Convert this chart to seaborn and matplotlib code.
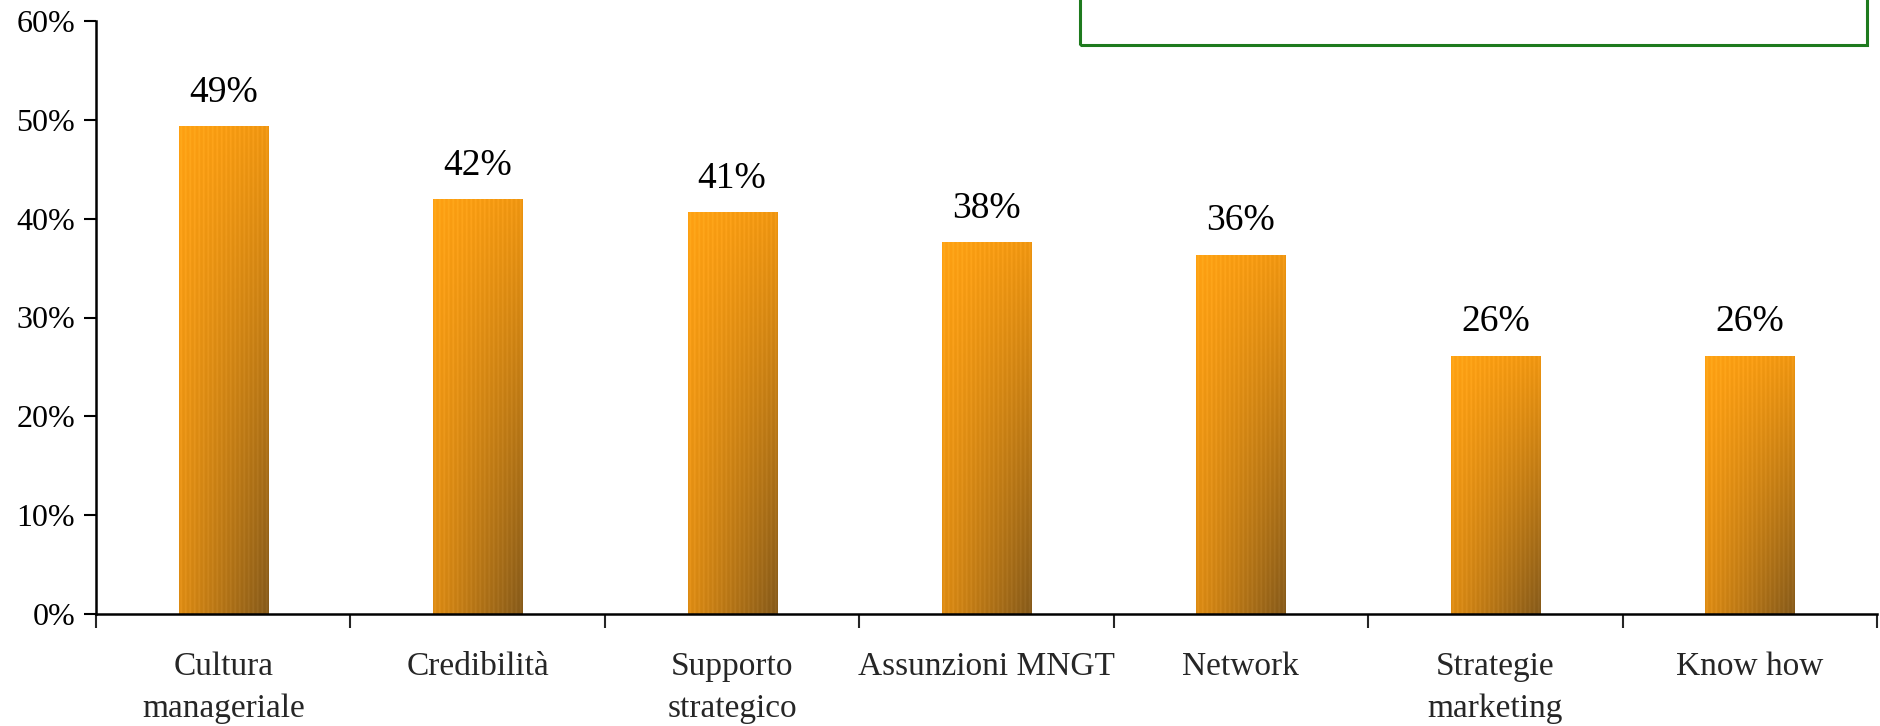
import numpy as np
import pandas as pd
import matplotlib
matplotlib.use("Agg")
import matplotlib.pyplot as plt
import seaborn as sns
from matplotlib.patches import Rectangle

categories = ["Cultura\nmanageriale", "Credibilità", "Supporto\nstrategico",
              "Assunzioni MNGT", "Network", "Strategie\nmarketing", "Know how"]
values = [49.3, 41.9, 40.6, 37.6, 36.3, 26.1, 26.1]
ytick_values = [0, 10, 20, 30, 40, 50, 60]

sns.set_theme(style="white")
plt.rcParams["font.family"] = ["Liberation Serif", "DejaVu Serif"]

df = pd.DataFrame({"cat": categories, "val": values})

fig = plt.figure(figsize=(18.8, 7.26), dpi=100)
ax = fig.add_axes([96/1880, 1-614/726, (1877-96)/1880, (614-21)/726])

sns.barplot(data=df, x="cat", y="val", ax=ax, width=0.35, color="#F59A10",
            edgecolor="none", linewidth=0)

ax.set_xlim(-0.5, len(categories) - 0.5)
ax.set_ylim(0, 60)

# gradient fill for each bar
c_tl = np.array([1.00, 0.63, 0.07])
c_tr = np.array([0.93, 0.58, 0.06])
c_bl = np.array([0.86, 0.54, 0.07])
c_br = np.array([0.52, 0.35, 0.10])
ny, nx = 200, 60
yy, xx = np.mgrid[0:1:ny*1j, 0:1:nx*1j]
img = ((1-xx)[..., None]*(1-yy)[..., None]*c_tl + xx[..., None]*(1-yy)[..., None]*c_tr
       + (1-xx)[..., None]*yy[..., None]*c_bl + xx[..., None]*yy[..., None]*c_br)
tex = (np.arange(nx) % 3 == 1).astype(float)[None, :] * 0.04
img = np.clip(img + tex[..., None], 0, 1)

for p, v in zip(ax.patches, values):
    x0, y0 = p.get_x(), p.get_y()
    w, h = p.get_width(), p.get_height()
    p.set_facecolor("none")
    ax.imshow(img, extent=[x0, x0 + w, y0, y0 + h], origin="upper",
              aspect="auto", zorder=2, interpolation="bilinear")
    ax.text(x0 + w/2, y0 + h + 1.7, f"{int(v + 0.5)}%", ha="center", va="bottom",
            fontsize=27, color="black")

ax.set_xlim(-0.5, len(categories) - 0.5)
ax.set_ylim(0, 60)

ax.set_yticks(ytick_values)
ax.set_yticklabels([f"{t}%" for t in ytick_values], fontsize=23)
ax.tick_params(axis="y", direction="out", length=9, width=1.5, pad=6, left=True, colors="black")

ax.set_xticks(np.arange(-0.5, len(categories), 1.0))
ax.set_xticklabels([])
ax.tick_params(axis="x", which="major", direction="out", length=10, width=1.5, bottom=True)
ax.set_xticks(np.arange(len(categories)), minor=True)
ax.set_xticklabels(categories, minor=True, fontsize=24, linespacing=1.5)
ax.tick_params(axis="x", which="minor", length=0, pad=27)

ax.set_xlabel("")
ax.set_ylabel("")
for s in ["top", "right"]:
    ax.spines[s].set_visible(False)
for s in ["left", "bottom"]:
    ax.spines[s].set_color("black")
    ax.spines[s].set_linewidth(1.8)
ax.grid(False)

# empty green legend box at the top
fig.patches.append(Rectangle((1080/1880, 1-45/726), (1867-1080)/1880, 60/726,
                             transform=fig.transFigure, fill=False,
                             edgecolor="#1E7A1E", linewidth=2.2))

fig.savefig("out.png", dpi=100, facecolor="white")
